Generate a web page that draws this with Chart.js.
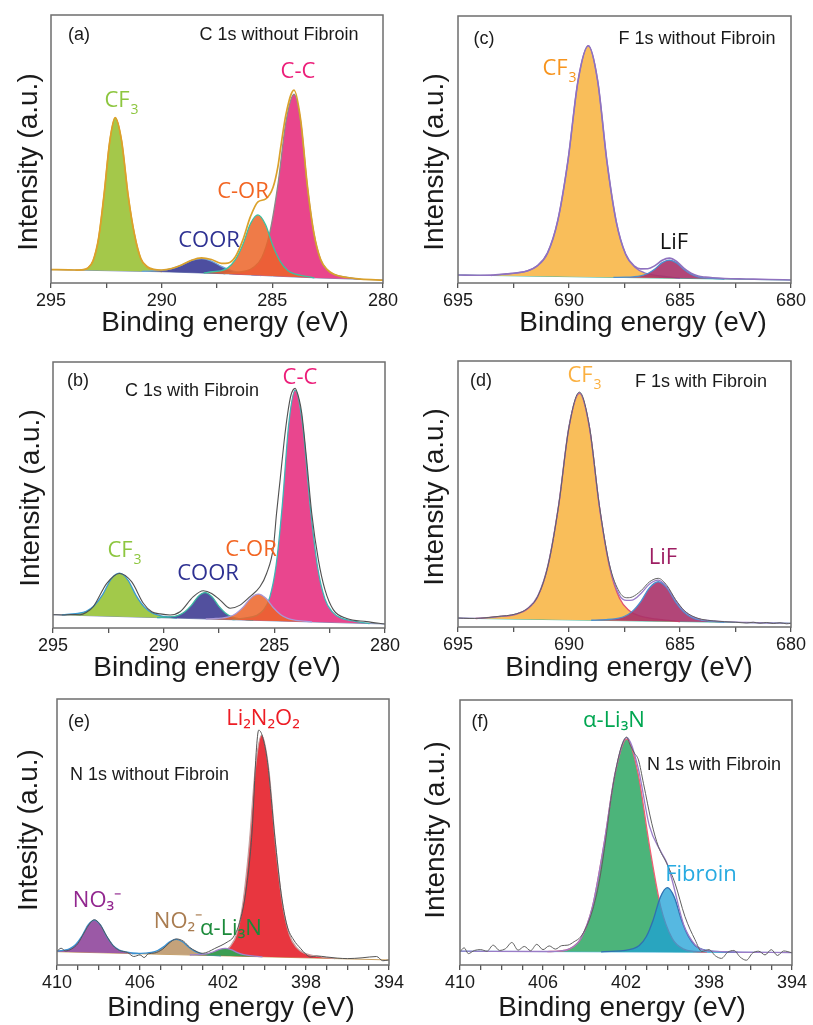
<!DOCTYPE html>
<html>
<head>
<meta charset="utf-8">
<title>XPS spectra with and without fibroin</title>
<script src="https://cdn.jsdelivr.net/npm/chart.js@4.4.1/dist/chart.umd.min.js"></script>
<style>
  html, body { margin: 0; padding: 0; background: #fff; }
  #page { position: relative; width: 813px; height: 1025px; }
  #page canvas { position: absolute; left: 0; top: 0; }
</style>
</head>
<body>
<div id="page">
  <canvas id="panelA" width="813" height="1025"></canvas>
  <canvas id="panelB" width="813" height="1025"></canvas>
  <canvas id="panelC" width="813" height="1025"></canvas>
  <canvas id="panelD" width="813" height="1025"></canvas>
  <canvas id="panelE" width="813" height="1025"></canvas>
  <canvas id="panelF" width="813" height="1025"></canvas>
</div>
<script>
// tick labels (eV)
const carbonTicks = [295, 290, 285, 280];
const fluorineTicks = [695, 690, 685, 680];
const nitrogenTicks = [410, 406, 402, 398, 394];

// (a) C 1s without fibroin -- [binding energy, intensity]
const aBaseline = [[295, 5.0], [290, 4.2], [287, 3.4], [285, 2.6], [283, 1.9], [280, 1.1]];
const aCF3 = [[293.9, 4.83], [293.6, 4.9], [293.35, 5.5], [293.1, 8.3], [292.85, 16.7], [292.6, 33.2], [292.35, 52.6], [292.1, 61.7], [291.81, 53.0], [291.52, 33.0], [291.23, 18.2], [290.94, 9.0], [290.65, 5.9], [290.36, 4.85], [290.0, 4.2]];
const aCOOR = [[290.9, 4.34], [290.45, 4.5], [290.0, 4.74], [289.55, 5.38], [289.1, 6.66], [288.65, 8.44], [288.2, 9.12], [287.75, 8.2], [287.3, 6.18], [286.85, 4.64], [286.4, 3.7], [285.95, 3.22], [285.5, 2.8]];
const aCOR = [[288.1, 3.7], [287.69, 4.2], [287.35, 4.5], [287.01, 5.65], [286.67, 8.7], [286.33, 14.4], [285.99, 22.1], [285.65, 25.4], [285.31, 21.8], [284.97, 13.8], [284.63, 7.9], [284.29, 4.6], [283.95, 3.3], [283.61, 2.7], [283.1, 1.94]];
const aCC = [[287.2, 3.45], [286.9, 3.8], [286.19, 4.5], [285.83, 6.0], [285.47, 9.6], [285.11, 19.0], [284.75, 36.6], [284.38, 60.4], [284.02, 70.5], [283.72, 60.2], [283.42, 36.2], [283.12, 18.4], [282.82, 8.7], [282.52, 4.9], [282.22, 3.2], [281.62, 2.05], [281.0, 1.37]];
const aEnvelope = [[295, 5.0], [294.2, 4.87], [293.9, 4.85], [293.6, 4.95], [293.35, 5.5], [293.1, 8.3], [292.85, 16.7], [292.6, 33.2], [292.35, 52.6], [292.1, 61.7], [291.81, 53.0], [291.52, 33.0], [291.23, 18.2], [290.94, 9.1], [290.65, 6.1], [290.36, 5.1], [290.0, 4.85], [289.55, 5.4], [289.1, 6.7], [288.65, 8.5], [288.2, 9.4], [287.75, 8.75], [287.3, 7.35], [287.01, 7.45], [286.67, 9.8], [286.33, 16.1], [285.99, 24.75], [285.65, 30.3], [285.31, 31.3], [284.97, 35.6], [284.75, 43.3], [284.63, 50.1], [284.38, 63.1], [284.02, 72.0], [283.72, 60.9], [283.42, 36.5], [283.12, 18.5], [282.82, 8.8], [282.52, 5.0], [282.22, 3.25], [281.62, 2.05], [281.0, 1.45], [280, 1.1]];

// (b) C 1s with fibroin
const bBaseline = [[295, 5.0], [280, 1.5]];
const bCF3 = [[294.6, 4.9], [294.25, 5.18], [293.88, 5.47], [293.5, 6.28], [293.13, 8.47], [292.75, 12.63], [292.38, 18.3], [292.0, 20.6], [291.62, 18.12], [291.25, 12.28], [290.88, 7.94], [290.5, 5.59], [290.13, 4.6], [289.75, 4.14], [289.4, 3.7]];
const bCOOR = [[290.3, 3.9], [290.0, 4.06], [289.68, 4.21], [289.37, 4.69], [289.06, 6.02], [288.75, 8.49], [288.44, 11.87], [288.13, 13.3], [287.82, 11.73], [287.51, 8.21], [287.2, 5.58], [286.89, 4.11], [286.58, 3.49], [286.27, 3.19], [285.95, 2.9]];
const bCOR = [[288.1, 3.39], [287.75, 3.53], [287.41, 3.68], [287.07, 4.15], [286.73, 5.47], [286.4, 7.95], [286.06, 11.32], [285.72, 12.74], [285.38, 11.16], [285.04, 7.63], [284.71, 5.0], [284.37, 3.52], [284.03, 2.89], [283.69, 2.58], [283.3, 2.27]];
const bCC = [[286.9, 3.11], [286.36, 3.69], [285.79, 4.76], [285.5, 6.69], [285.21, 11.42], [284.92, 23.55], [284.64, 46.09], [284.35, 76.52], [284.06, 89.45], [283.72, 76.37], [283.38, 45.79], [283.05, 23.11], [282.71, 10.83], [282.37, 5.95], [282.03, 3.87], [281.36, 2.52], [280.7, 1.66]];
const bSpectrum = [[295, 5.0], [294.53, 4.9], [294.2, 5.1], [293.78, 5.0], [293.5, 5.8], [293.18, 8.0], [292.57, 16.8], [292.0, 20.5], [291.45, 17.4], [290.92, 9.3], [290.54, 6.1], [290.16, 5.3], [289.71, 4.9], [289.26, 6.1], [288.66, 11.8], [288.21, 14.0], [287.83, 13.0], [287.45, 10.5], [287.0, 7.4], [286.55, 8.6], [286.1, 11.8], [285.65, 15.5], [285.35, 20.5], [285.04, 30.6], [284.9, 43.1], [284.74, 55.6], [284.56, 70], [284.4, 80.5], [284.25, 87.5], [284.06, 90.1], [283.88, 86], [283.76, 80.7], [283.54, 63.2], [283.31, 43.1], [283.01, 25.6], [282.71, 14.3], [282.33, 6.8], [281.73, 3.6], [280.83, 2.4], [280.0, 1.5]];

// (c) F 1s without fibroin
const cBaseline = [[695, 3.0], [680, 1.1]];
const cCF3 = [[693.5, 2.81], [692.81, 3.42], [691.89, 4.51], [691.43, 6.45], [690.97, 11.19], [690.51, 23.23], [690.05, 45.67], [689.59, 75.92], [689.13, 88.86], [688.71, 75.81], [688.29, 45.45], [687.87, 22.9], [687.45, 10.75], [687.03, 5.89], [686.61, 3.84], [685.77, 2.53], [685.0, 1.73]];
const cLiF = [[688.0, 2.11], [687.43, 2.19], [687.1, 2.31], [686.78, 2.64], [686.45, 3.55], [686.13, 5.28], [685.8, 7.63], [685.48, 8.59], [685.15, 7.55], [684.83, 5.11], [684.5, 3.3], [684.18, 2.31], [683.85, 1.9], [683.53, 1.7], [683.0, 1.48]];
const cEnvelope = [[695, 3.0], [694, 2.9], [693.5, 2.95], [692.81, 3.42], [692.35, 3.75], [691.89, 4.51], [691.43, 6.45], [690.97, 11.19], [690.51, 23.23], [690.05, 45.67], [689.59, 75.92], [689.13, 88.86], [688.71, 75.81], [688.29, 45.45], [687.87, 22.9], [687.45, 10.85], [687.03, 6.2], [686.78, 5.3], [686.45, 5.35], [686.13, 6.5], [685.8, 8.5], [685.48, 9.3], [685.15, 8.05], [684.83, 5.55], [684.5, 3.65], [684.18, 2.6], [683.85, 2.2], [683.53, 1.95], [683, 1.7], [682, 1.5], [681, 1.3], [680, 1.15]];

// (d) F 1s with fibroin
const dBaseline = [[695, 3.3], [680, 1.4]];
const dCF3 = [[694.2, 3.19], [693.29, 3.78], [692.35, 4.87], [691.88, 6.71], [691.41, 11.35], [690.94, 23.19], [690.47, 45.33], [690.0, 75.07], [689.53, 87.81], [689.08, 74.95], [688.63, 45.09], [688.18, 22.84], [687.73, 10.88], [687.28, 6.12], [686.83, 4.17], [685.93, 2.85], [685.0, 2.03]];
const dLiF = [[689.0, 2.54], [688.32, 2.79], [687.93, 3.08], [687.54, 3.85], [687.15, 5.87], [686.76, 9.66], [686.37, 14.81], [685.98, 17.01], [685.59, 14.71], [685.2, 9.46], [684.81, 5.57], [684.42, 3.45], [684.03, 2.58], [683.64, 2.19], [683.0, 1.78]];
const dEnvelope = [[695, 3.3], [694.2, 3.25], [693.29, 3.8], [692.35, 4.95], [691.88, 6.85], [691.41, 11.6], [690.94, 23.5], [690.47, 45.7], [690.0, 75.4], [689.53, 88.0], [689.08, 75.2], [688.63, 45.4], [688.18, 23.3], [687.73, 12.0], [687.4, 10.0], [687.15, 10.1], [686.76, 12.6], [686.37, 16.2], [685.98, 17.6], [685.59, 15.1], [685.2, 10.0], [684.81, 6.0], [684.42, 3.8], [684.03, 2.8], [683.5, 2.3], [683, 2.0], [682, 1.7], [681, 1.5], [680, 1.4]];
const dSpectrum = [[695, 3.4], [694.5, 3.2], [694, 3.3], [693.29, 3.9], [692.35, 5.0], [691.88, 6.9], [691.41, 11.5], [690.94, 23.3], [690.47, 45.5], [690.0, 75.2], [689.53, 88.3], [689.08, 75.4], [688.63, 45.6], [688.18, 23.6], [687.73, 13.2], [687.4, 11.0], [687.15, 11.3], [686.76, 13.6], [686.37, 17.0], [685.98, 18.3], [685.59, 15.6], [685.2, 10.3], [684.81, 6.2], [684.42, 4.0], [684.03, 2.9], [683.5, 2.3], [683, 2.0], [682.5, 1.8], [682, 1.5], [681.7, 1.8], [681.4, 1.4], [681.1, 1.7], [680.8, 1.3], [680.5, 1.6], [680.2, 1.2], [680, 1.4]];

// (e) N 1s without fibroin
const eBaseline = [[410, 5.0], [394, 1.9]];
const eNO3 = [[410.0, 5.27], [409.7, 5.5], [409.4, 6.09], [409.1, 7.73], [408.8, 10.87], [408.5, 15.11], [408.2, 16.9], [407.9, 14.99], [407.6, 10.64], [407.3, 7.38], [407.0, 5.62], [406.7, 4.91], [406.4, 4.57], [406.0, 4.22]];
const eNO2 = [[406.4, 4.3], [406.05, 4.37], [405.75, 4.44], [405.45, 4.7], [405.15, 5.46], [404.85, 6.91], [404.55, 8.85], [404.25, 9.65], [403.95, 8.73], [403.65, 6.67], [403.35, 5.11], [403.05, 4.24], [402.75, 3.86], [402.45, 3.67], [402.1, 3.48]];
const eLi3N = [[403.6, 3.76], [403.29, 3.87], [403.01, 3.98], [402.73, 4.31], [402.45, 4.98], [402.17, 5.89], [401.89, 6.25], [401.61, 5.79], [401.33, 4.78], [401.05, 4.01], [400.77, 3.58], [400.49, 3.37], [400.1, 3.09]];
const eLi2N2O2 = [[403.2, 3.69], [402.54, 4.23], [401.94, 5.27], [401.64, 7.13], [401.34, 11.66], [401.04, 23.27], [400.74, 44.86], [400.44, 73.95], [400.14, 86.4], [399.8, 73.83], [399.46, 44.61], [399.13, 22.9], [398.79, 11.16], [398.45, 6.52], [398.11, 4.53], [397.43, 3.24], [396.6, 2.41]];
const eSpectrum = [[410, 5.2], [409.8, 6.3], [409.6, 5.3], [409.3, 6.0], [409.0, 8.0], [408.7, 12.0], [408.4, 15.8], [408.2, 17.0], [407.95, 15.5], [407.6, 10.8], [407.3, 7.3], [407.0, 5.5], [406.6, 4.7], [406.3, 3.2], [406.0, 3.8], [405.8, 2.8], [405.6, 4.2], [405.3, 4.5], [404.9, 6.0], [404.6, 8.2], [404.25, 9.8], [403.9, 8.9], [403.6, 6.6], [403.3, 5.2], [403.0, 4.4], [402.7, 5.0], [402.4, 6.2], [402.1, 7.3], [401.8, 8.6], [401.5, 10.5], [401.2, 16.0], [400.9, 27.5], [400.6, 50.0], [400.4, 80.0], [400.28, 88.3], [400.1, 86.0], [399.85, 76.0], [399.5, 48.0], [399.2, 27.0], [398.92, 15.0], [398.59, 9.4], [398.27, 6.3], [398.0, 4.0], [397.79, 3.0], [397.5, 3.4], [397.0, 3.0], [396.5, 2.6], [396.0, 2.4], [395.3, 2.7], [394.6, 3.2], [394.3, 1.6], [394.0, 1.9]];

// (f) N 1s with fibroin
const fBaseline = [[410, 5.2], [394, 4.7]];
const fLi3N = [[405.8, 5.07], [405.27, 5.21], [404.72, 6.08], [404.17, 10.03], [403.62, 21.84], [403.07, 45.1], [402.52, 72.37], [401.97, 85.2], [401.42, 72.33], [400.87, 45.02], [400.32, 21.75], [399.77, 9.95], [399.22, 5.98], [398.67, 5.09], [398.1, 4.83]];
const fFibroin = [[403.2, 4.99], [402.71, 5.16], [402.04, 5.49], [401.7, 6.05], [401.36, 7.34], [401.02, 10.73], [400.69, 17.01], [400.35, 25.5], [400.01, 29.2], [399.67, 25.6], [399.33, 17.09], [398.99, 10.79], [398.66, 7.25], [398.32, 5.94], [397.98, 5.35], [397.31, 4.99], [396.6, 4.78]];
const fEnvelope = [[410, 5.2], [405.8, 5.1], [405.27, 5.26], [404.72, 6.14], [404.17, 10.1], [403.62, 21.9], [403.07, 45.2], [402.52, 72.6], [401.97, 85.8], [401.42, 74.6], [400.87, 52.4], [400.32, 42.8], [400.01, 38.1], [399.77, 31.8], [399.22, 15.2], [398.67, 7.6], [398.32, 5.8], [397.98, 5.3], [397.3, 5.0], [394, 4.7]];
const fSpectrum = [[410, 5.0], [409.8, 6.5], [409.6, 4.3], [409.3, 5.5], [409.0, 5.8], [408.7, 5.2], [408.4, 7.5], [408.1, 5.5], [407.8, 6.2], [407.5, 8.5], [407.2, 5.6], [406.9, 7.0], [406.6, 5.4], [406.3, 7.8], [406.0, 5.8], [405.7, 7.2], [405.4, 6.0], [405.1, 7.3], [404.8, 7.5], [404.5, 8.8], [404.2, 10.5], [403.9, 14.5], [403.6, 21.0], [403.3, 31.0], [403.0, 46.0], [402.7, 64.0], [402.4, 77.0], [402.15, 84.0], [401.97, 86.0], [401.8, 83.0], [401.6, 80.0], [401.4, 77.4], [401.16, 68.6], [400.76, 53.5], [400.44, 44.7], [400.04, 38.4], [399.64, 30.9], [399.16, 18.3], [398.67, 9.5], [398.35, 5.1], [398.0, 5.8], [397.7, 3.5], [397.4, 2.5], [397.1, 4.8], [396.8, 5.5], [396.5, 3.0], [396.2, 1.8], [395.9, 4.5], [395.6, 5.2], [395.3, 3.8], [395.0, 5.8], [394.7, 3.6], [394.4, 5.3], [394.0, 4.6]];

const SANS = '"Liberation Sans", Arial, sans-serif';
const PEAK_FONT = '22px "Open Sans", sans-serif';
const NOTE_FONT = '18px ' + SANS;
const INK = '#1a1a1a';

function drawText(ctx, t) {
  ctx.font = t.font || PEAK_FONT;
  ctx.fillStyle = t.color || INK;
  ctx.textBaseline = 'middle';
  if (t.align === 'left') {
    ctx.textAlign = 'left';
    ctx.fillText(t.text, t.x, t.y);
    return;
  }
  ctx.textAlign = 'center';
  ctx.fillText(t.text, t.x, t.y);
  if (t.sub) {
    const w = ctx.measureText(t.text).width;
    ctx.font = '14px "Open Sans", sans-serif';
    ctx.textAlign = 'left';
    ctx.fillText(t.sub, t.x + w / 2 + 1, t.y + 9);
  }
}

// frame, axis titles and peak labels
const panelDecor = {
  id: 'panelDecor',
  afterDraw(chart, args, opts) {
    const { ctx, chartArea: a } = chart;
    ctx.save();
    ctx.strokeStyle = '#6e6e6e';
    ctx.lineWidth = 1.5;
    ctx.strokeRect(a.left, a.top, a.right - a.left, a.bottom - a.top);

    opts.texts.forEach((t) => drawText(ctx, t));

    ctx.font = '28px ' + SANS;
    ctx.fillStyle = INK;
    ctx.textAlign = 'center';
    ctx.textBaseline = 'middle';
    ctx.fillText('Binding energy (eV)', opts.xTitle[0], opts.xTitle[1]);

    ctx.translate(opts.yTitle[0], opts.yTitle[1]);
    ctx.rotate(-Math.PI / 2);
    ctx.fillText(opts.yTitle[2], 0, 0);
    ctx.restore();
  },
};

function toPoints(pairs) {
  return pairs.map(([x, y]) => ({ x, y }));
}

function makePanel(p) {
  const [left, top, right, bottom] = p.box;
  const datasets = [
    {
      data: toPoints(p.baseline),
      borderColor: p.baseColor || '#7f8fb8',
      borderWidth: 1,
      tension: 0,
      order: 50,
    },
  ];

  p.peaks.forEach((peak, i) => {
    datasets.push({
      data: toPoints(peak.data),
      fill: { target: 0 },
      backgroundColor: peak.fill,
      borderColor: peak.line,
      borderWidth: 1.3,
      cubicInterpolationMode: 'monotone',
      order: 20 - i,
    });
  });

  p.lines.forEach((line, i) => {
    datasets.push({
      data: toPoints(line.data),
      fill: false,
      borderColor: line.color,
      borderWidth: line.width || 1.2,
      cubicInterpolationMode: 'monotone',
      order: 2 - i,
    });
  });

  return new Chart(document.getElementById(p.id), {
    type: 'line',
    data: { datasets },
    options: {
      responsive: false,
      animation: false,
      devicePixelRatio: 1,
      events: [],
      elements: { point: { radius: 0 } },
      layout: {
        padding: { left, top, right: 813 - right, bottom: 1025 - bottom - 30 },
      },
      plugins: {
        legend: { display: false },
        tooltip: { enabled: false },
        panelDecor: { texts: p.texts, xTitle: p.xTitle, yTitle: p.yTitle },
      },
      scales: {
        x: {
          type: 'linear',
          reverse: true,
          min: p.range[0],
          max: p.range[1],
          afterFit: (scale) => {
            scale.height = 30;
          },
          border: { display: false },
          grid: {
            drawOnChartArea: false,
            drawTicks: true,
            tickLength: 5,
            color: '#555',
            lineWidth: 1.3,
          },
          ticks: {
            stepSize: p.step,
            autoSkip: false,
            maxRotation: 0,
            padding: 2,
            color: INK,
            font: { family: SANS, size: 18 },
            callback: (v) => (p.tickLabels.includes(v) ? String(v) : ''),
          },
        },
        y: { display: false, min: 0, max: 100 },
      },
    },
    plugins: [panelDecor],
  });
}

const CARBON_Y = 'Intensity (a.u.)';

const panels = [
  {
    id: 'panelA',
    box: [51, 15, 383, 283],
    range: [280, 295],
    step: 2.5,
    tickLabels: carbonTicks,
    baseline: aBaseline,
    peaks: [
      { data: aCF3, fill: '#a4c84a', line: '#e39a2d' },
      { data: aCOOR, fill: '#4d4ea0', line: '#6fa6dc' },
      { data: aCC, fill: '#e9458c', line: '#8a8a8a' },
      { data: aCOR, fill: 'rgba(236, 100, 40, 0.85)', line: '#3cc0a0' },
    ],
    lines: [{ data: aEnvelope, color: '#dba12b', width: 1.7 }],
    xTitle: [225, 323],
    yTitle: [29, 162, CARBON_Y],
    texts: [
      { text: '(a)', x: 79, y: 35, font: NOTE_FONT },
      { text: 'C 1s without Fibroin', x: 279, y: 35, font: NOTE_FONT },
      { text: 'CF', sub: '3', x: 117, y: 101, color: '#8dc63f' },
      { text: 'COOR', x: 209, y: 241, color: '#2e3192' },
      { text: 'C-OR', x: 243, y: 192, color: '#f26522' },
      { text: 'C-C', x: 298, y: 72, color: '#ec1e79' },
    ],
  },
  {
    id: 'panelB',
    box: [53, 362, 385, 628],
    range: [280, 295],
    step: 2.5,
    tickLabels: carbonTicks,
    baseline: bBaseline,
    peaks: [
      { data: bCF3, fill: '#a2c94a', line: '#3a9ad0' },
      { data: bCOOR, fill: '#52509e', line: '#3ab5a0' },
      { data: bCC, fill: '#e9468e', line: '#40b5b5' },
      { data: bCOR, fill: 'rgba(236, 100, 40, 0.85)', line: '#a898d8' },
    ],
    lines: [{ data: bSpectrum, color: '#505050', width: 1.1 }],
    xTitle: [217, 668],
    yTitle: [31, 498, CARBON_Y],
    texts: [
      { text: '(b)', x: 78, y: 381, font: NOTE_FONT },
      { text: 'C 1s with Fibroin', x: 192, y: 391, font: NOTE_FONT },
      { text: 'C-C', x: 300, y: 378, color: '#ec1e79' },
      { text: 'CF', sub: '3', x: 120, y: 551, color: '#8dc63f' },
      { text: 'COOR', x: 208, y: 574, color: '#2e3192' },
      { text: 'C-OR', x: 251, y: 550, color: '#f26522' },
    ],
  },
  {
    id: 'panelC',
    box: [458, 16, 791, 283],
    range: [680, 695],
    step: 2.5,
    tickLabels: fluorineTicks,
    baseline: cBaseline,
    baseColor: '#4cb8a0',
    peaks: [
      { data: cCF3, fill: '#f9be5a', line: '#9070c0' },
      { data: cLiF, fill: 'rgba(170, 50, 105, 0.9)', line: '#4a90d0' },
    ],
    lines: [{ data: cEnvelope, color: '#8f72bf', width: 1.6 }],
    xTitle: [643, 323],
    yTitle: [435, 162, CARBON_Y],
    texts: [
      { text: '(c)', x: 484, y: 39, font: NOTE_FONT },
      { text: 'F 1s without Fibroin', x: 697, y: 39, font: NOTE_FONT },
      { text: 'CF', sub: '3', x: 555, y: 69, color: '#f7941d' },
      { text: 'LiF', x: 674, y: 243, color: '#111' },
    ],
  },
  {
    id: 'panelD',
    box: [458, 361, 791, 627],
    range: [680, 695],
    step: 2.5,
    tickLabels: fluorineTicks,
    baseline: dBaseline,
    baseColor: '#4cb8a0',
    peaks: [
      { data: dCF3, fill: '#f9be5a', line: '#e0506e' },
      { data: dLiF, fill: 'rgba(170, 50, 105, 0.9)', line: '#4a90d0' },
    ],
    lines: [
      { data: dEnvelope, color: '#9a7cc8', width: 1.3 },
      { data: dSpectrum, color: '#606060', width: 1 },
    ],
    xTitle: [629, 668],
    yTitle: [435, 497, CARBON_Y],
    texts: [
      { text: '(d)', x: 481, y: 381, font: NOTE_FONT },
      { text: 'F 1s with Fibroin', x: 701, y: 382, font: NOTE_FONT },
      { text: 'CF', sub: '3', x: 580, y: 376, color: '#fbb040' },
      { text: 'LiF', x: 663, y: 558, color: '#9e1f63' },
    ],
  },
  {
    id: 'panelE',
    box: [57, 699, 389, 965],
    range: [394, 410],
    step: 1,
    tickLabels: nitrogenTicks,
    baseline: eBaseline,
    baseColor: '#c9a060',
    peaks: [
      { data: eLi2N2O2, fill: '#e8363f', line: '#c8a0a0' },
      { data: eNO3, fill: '#9b59a6', line: '#3a90d0' },
      { data: eNO2, fill: '#c4a27a', line: '#3a90d0' },
      { data: eLi3N, fill: '#3c9e52', line: '#a080c8' },
    ],
    lines: [{ data: eSpectrum, color: '#555', width: 1 }],
    xTitle: [231, 1008],
    yTitle: [29, 830, 'Intesity (a.u.)'],
    texts: [
      { text: '(e)', x: 79, y: 722, font: NOTE_FONT },
      { text: 'N 1s without Fibroin', x: 70, y: 775, font: NOTE_FONT, align: 'left' },
      { text: 'Li₂N₂O₂', x: 263, y: 719, color: '#ed1c24' },
      { text: 'NO₃⁻', x: 97, y: 901, color: '#92278f' },
      { text: 'NO₂⁻', x: 178, y: 922, color: '#a97c50' },
      { text: 'α-Li₃N', x: 231, y: 929, color: '#1b8a3a' },
    ],
  },
  {
    id: 'panelF',
    box: [460, 700, 792, 965],
    range: [394, 410],
    step: 1,
    tickLabels: nitrogenTicks,
    baseline: fBaseline,
    baseColor: '#30a8d8',
    peaks: [
      { data: fLi3N, fill: '#4cb47a', line: '#f06074' },
      { data: fFibroin, fill: 'rgba(30, 160, 215, 0.75)', line: '#3070b0' },
    ],
    lines: [
      { data: fEnvelope, color: '#9a7cc8', width: 1.3 },
      { data: fSpectrum, color: '#606060', width: 1 },
    ],
    xTitle: [622, 1008],
    yTitle: [436, 830, CARBON_Y],
    texts: [
      { text: '(f)', x: 480, y: 722, font: NOTE_FONT },
      { text: 'α-Li₃N', x: 614, y: 721, color: '#00a651' },
      { text: 'N 1s with Fibroin', x: 714, y: 765, font: NOTE_FONT },
      { text: 'Fibroin', x: 701, y: 875, color: '#27aae1' },
    ],
  },
];

document.addEventListener('DOMContentLoaded', () => {
  panels.forEach(makePanel);
});
</script>
</body>
</html>
